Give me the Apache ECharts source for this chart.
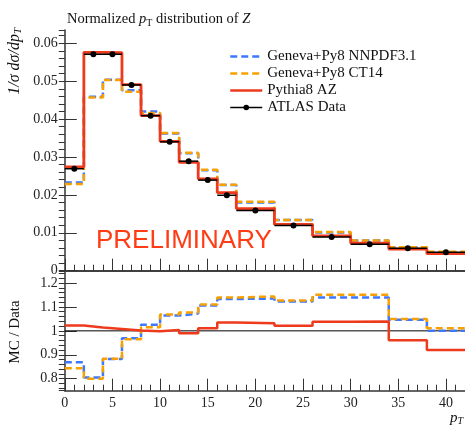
<!DOCTYPE html>
<html><head><meta charset="utf-8">
<script src="https://cdn.jsdelivr.net/npm/echarts@6/dist/echarts.min.js"></script>
<style>html,body{margin:0;padding:0;background:#fff}#c{width:465px;height:427px}</style>
</head><body><div id="c"></div>
<script>
// ---- data ----
const binEdges = [0, 2, 4, 6, 8, 10, 12, 14, 16, 18, 22, 26, 30, 34, 38, 42];
const atlasData   = [0.0269, 0.0571, 0.0571, 0.0490, 0.0409, 0.0340, 0.0289, 0.0239, 0.0199, 0.0159, 0.0119, 0.0089, 0.0070, 0.0059, 0.0049];
const genevaNNPDF = [0.0233, 0.0459, 0.0504, 0.0476, 0.0420, 0.0362, 0.0310, 0.0265, 0.0226, 0.0180, 0.0134, 0.0101, 0.0080, 0.0062, 0.0049];
const genevaCT14  = [0.0229, 0.0457, 0.0503, 0.0472, 0.0416, 0.0363, 0.0311, 0.0266, 0.0227, 0.0182, 0.0134, 0.0102, 0.0080, 0.0062, 0.0050];
const pythiaAZ    = [0.0274, 0.0576, 0.0575, 0.0491, 0.0409, 0.0341, 0.0286, 0.0242, 0.0206, 0.0164, 0.0122, 0.0092, 0.0073, 0.0057, 0.0045];
const ratioNNPDF  = [0.869, 0.805, 0.882, 0.969, 1.025, 1.064, 1.072, 1.106, 1.133, 1.135, 1.123, 1.139, 1.139, 1.046, 1.000];
const ratioCT14   = [0.844, 0.800, 0.883, 0.965, 1.015, 1.068, 1.077, 1.110, 1.139, 1.144, 1.127, 1.151, 1.151, 1.050, 1.011];
const ratioPythia = [1.022, 1.014, 1.008, 1.001, 0.998, 1.004, 0.990, 1.011, 1.035, 1.032, 1.021, 1.038, 1.039, 0.961, 0.920];
const ratioRef = 1;

const seriesNames = ['Geneva+Py8 NNPDF3.1', 'Geneva+Py8 CT14', 'Pythia8 AZ', 'ATLAS Data'];
const colBlue = '#3d78ff', colOrange = '#f8a000', colRed = '#ee3a1c';
const serif = "'Liberation Serif', 'DejaVu Serif', serif";

function stepPts(vals) {
  const p = vals.map((v, i) => [binEdges[i], v]);
  p.push([binEdges[binEdges.length - 1], vals[vals.length - 1]]);
  return p;
}
const centers = atlasData.map((v, i) => [(binEdges[i] + binEdges[i + 1]) / 2, v]);
const dataBins = atlasData.map((v, i) => [binEdges[i], binEdges[i + 1], v]);

const xMin = 0, xMax = 42;
const axisCol = '#333';

function xMain(grid, labels) {
  return { type: 'value', gridIndex: grid, min: xMin, max: xMax, interval: 5, position: 'bottom',
    axisLine: { show: true, onZero: false, lineStyle: { color: axisCol, width: 1.5 } },
    axisTick: { show: true, inside: true, length: 12, lineStyle: { color: axisCol, width: 1 } },
    axisLabel: { show: labels, showMaxLabel: false, margin: 6, color: '#222', fontFamily: serif, fontSize: 14 },
    splitLine: { show: false } };
}
function xMinor(grid) {
  return { type: 'value', gridIndex: grid, min: xMin, max: xMax, interval: 1, position: 'bottom',
    axisLine: { show: false }, axisTick: { show: true, inside: true, length: 6, lineStyle: { color: axisCol, width: 1 } },
    axisLabel: { show: false }, splitLine: { show: false } };
}

const option = {
  backgroundColor: '#fff',
  animation: false,
  title: {
    text: '{n|Normalized }{i|p}{s|T}{n| distribution of }{i|Z}',
    left: 62, top: 6,
    textStyle: { fontWeight: 'normal', rich: {
      n: { fontFamily: serif, fontSize: 14.5, fontWeight: 'normal', color: '#111' },
      i: { fontFamily: serif, fontSize: 14.5, fontWeight: 'normal', fontStyle: 'italic', color: '#111' },
      s: { fontFamily: serif, fontSize: 10, fontWeight: 'normal', color: '#111', padding: [7, 0, 0, 0] }
    } }
  },
  legend: {
    data: [
      { name: seriesNames[0], itemStyle: { opacity: 0 }, lineStyle: { width: 2.5 } },
      { name: seriesNames[1], itemStyle: { opacity: 0 }, lineStyle: { width: 2.5 } },
      { name: seriesNames[2], itemStyle: { opacity: 0 }, lineStyle: { width: 2.5 } },
      { name: seriesNames[3], lineStyle: { width: 1.3, opacity: 1, color: '#000' } }
    ],
    orient: 'vertical', left: 224, top: 44,
    itemWidth: 32, itemHeight: 7, itemGap: 2,
    selectedMode: false,
    textStyle: { fontFamily: serif, fontSize: 15, color: '#111' }
  },
  grid: [
    { left: 64.8, top: 30, width: 401.5, height: 240.7 },
    { left: 64.8, top: 271, width: 401.5, height: 119.7 }
  ],
  xAxis: [
    xMain(0, false), xMinor(0),
    { type: 'value', gridIndex: 0, min: xMin, max: xMax, position: 'top',
      axisLine: { show: true, lineStyle: { color: axisCol, width: 1.5 } }, axisTick: { show: false }, axisLabel: { show: false }, splitLine: { show: false } },
    xMain(1, true), xMinor(1)
  ],
  yAxis: [
    { type: 'value', gridIndex: 0, min: 0, max: 0.0635, interval: 0.01,
      axisLine: { show: true, lineStyle: { color: axisCol, width: 1.5 } },
      axisTick: { show: true, inside: true, length: 12, lineStyle: { color: axisCol, width: 1 } },
      axisLabel: { showMaxLabel: false, margin: 7, color: '#222', fontFamily: serif, fontSize: 14 },
      splitLine: { show: false } },
    { type: 'value', gridIndex: 0, min: 0, max: 0.0635, interval: 0.002,
      axisLine: { show: false }, axisTick: { show: true, inside: true, length: 6, lineStyle: { color: axisCol, width: 1 } },
      axisLabel: { show: false }, splitLine: { show: false } },
    { type: 'value', gridIndex: 1, min: 0.75, max: 1.25, splitNumber: 5,
      axisLine: { show: true, lineStyle: { color: axisCol, width: 1.5 } },
      axisTick: { show: true, inside: true, length: 12, lineStyle: { color: axisCol, width: 1 } },
      axisLabel: { showMaxLabel: false, showMinLabel: false, margin: 7, color: '#222', fontFamily: serif, fontSize: 14 },
      splitLine: { show: false } },
    { type: 'value', gridIndex: 1, min: 0.75, max: 1.25, splitNumber: 25,
      axisLine: { show: false }, axisTick: { show: true, inside: true, length: 6, lineStyle: { color: axisCol, width: 1 } },
      axisLabel: { show: false }, splitLine: { show: false } }
  ],
  series: [
    { name: seriesNames[0], type: 'line', step: 'end', xAxisIndex: 0, yAxisIndex: 0, data: stepPts(genevaNNPDF),
      showSymbol: false, symbol: 'circle', color: colBlue, lineStyle: { color: colBlue, width: 2.5, type: [7, 4] }, z: 2 },
    { name: seriesNames[1], type: 'line', step: 'end', xAxisIndex: 0, yAxisIndex: 0, data: stepPts(genevaCT14),
      showSymbol: false, symbol: 'circle', color: colOrange, lineStyle: { color: colOrange, width: 2.5, type: [7, 4] }, z: 3 },
    { name: seriesNames[2], type: 'line', step: 'end', xAxisIndex: 0, yAxisIndex: 0, data: stepPts(pythiaAZ),
      showSymbol: false, symbol: 'circle', color: colRed, lineStyle: { color: colRed, width: 2.8 }, z: 4 },
    { name: 'dataBins', type: 'custom', xAxisIndex: 0, yAxisIndex: 0, data: dataBins, z: 5, silent: true,
      renderItem: function (params, api) {
        const p0 = api.coord([api.value(0), api.value(2)]);
        const p1 = api.coord([api.value(1), api.value(2)]);
        return { type: 'line', shape: { x1: p0[0], y1: p0[1], x2: p1[0], y2: p1[1] }, style: { stroke: '#000', lineWidth: 1.5 } };
      } },
    { name: seriesNames[3], type: 'line', xAxisIndex: 0, yAxisIndex: 0, data: centers,
      symbol: 'circle', symbolSize: 6, color: '#000', itemStyle: { color: '#000' }, lineStyle: { opacity: 0, width: 1 }, z: 6 },
    // ratio panel
    { name: 'ratioRef', type: 'line', xAxisIndex: 3, yAxisIndex: 2, data: [[xMin, ratioRef], [xMax, ratioRef]],
      showSymbol: false, lineStyle: { color: '#000', width: 1 }, z: 1 },
    { name: 'rNNPDF', type: 'line', step: 'end', xAxisIndex: 3, yAxisIndex: 2, data: stepPts(ratioNNPDF),
      showSymbol: false, lineStyle: { color: colBlue, width: 2.5, type: [7, 4] }, z: 2 },
    { name: 'rCT14', type: 'line', step: 'end', xAxisIndex: 3, yAxisIndex: 2, data: stepPts(ratioCT14),
      showSymbol: false, lineStyle: { color: colOrange, width: 2.5, type: [7, 4] }, z: 3 },
    { name: 'rPythia', type: 'line', step: 'end', xAxisIndex: 3, yAxisIndex: 2, data: stepPts(ratioPythia),
      showSymbol: false, lineStyle: { color: colRed, width: 2.5 }, z: 4 }
  ],
  graphic: [
    { type: 'text', x: 15, y: 28, rotation: Math.PI / 2, z: 10,
      style: { text: '{i|1/σ dσ/dp}{s|T}', textAlign: 'right', textVerticalAlign: 'middle',
        rich: { i: { fontFamily: serif, fontSize: 16, fontStyle: 'italic', fill: '#111' },
                s: { fontFamily: serif, fontSize: 11, fontStyle: 'italic', fill: '#111', padding: [7, 0, 0, 0] } } } },
    { type: 'text', x: 15, y: 332, rotation: Math.PI / 2, z: 10,
      style: { text: 'MC / Data', textAlign: 'center', textVerticalAlign: 'middle', fontFamily: serif, fontSize: 15, fill: '#111' } },
    { type: 'text', x: 463, y: 418, z: 10,
      style: { text: '{i|p}{s|T}', textAlign: 'right', textVerticalAlign: 'middle',
        rich: { i: { fontFamily: serif, fontSize: 15, fontStyle: 'italic', fill: '#111' },
                s: { fontFamily: serif, fontSize: 10, fontStyle: 'italic', fill: '#111', padding: [7, 0, 0, 0] } } } },
    { type: 'text', x: 96, y: 241, z: 10,
      style: { text: 'PRELIMINARY', textAlign: 'left', textVerticalAlign: 'middle', fontFamily: "'Liberation Sans', Arial, sans-serif", fontSize: 26, fill: '#ff3c14' } }
  ]
};
const chart = echarts.init(document.getElementById('c'), null, { renderer: 'canvas' });
chart.setOption(option);
</script></body></html>
